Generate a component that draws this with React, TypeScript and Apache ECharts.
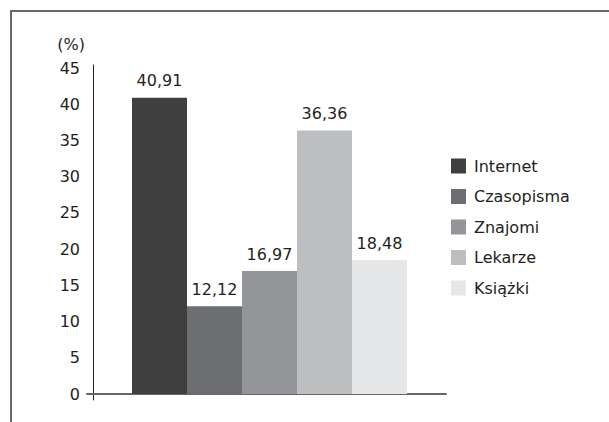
import React, { useEffect, useRef } from "react";
import * as echarts from "echarts";

const seriesNames = ["Internet", "Czasopisma", "Znajomi", "Lekarze", "Książki"];
const seriesValues = [40.91, 12.12, 16.97, 36.36, 18.48];
const seriesColors = ["#3f3f3f", "#6d6e71", "#939598", "#bcbec0", "#e6e7e8"];
const categories = [""];
const yMin = 0;
const yMax = 45;
const yInterval = 5;

const FONT = "'DejaVu Sans', sans-serif";
const TEXT = "#231f20";

export default function App() {
  const ref = useRef<HTMLDivElement>(null);
  useEffect(() => {
    if (!ref.current) return;
    const chart = echarts.init(ref.current, null, { renderer: "svg" });
    chart.setOption({
      animation: false,
      backgroundColor: "#ffffff",
      textStyle: { fontFamily: FONT, color: TEXT },
      graphic: [
        {
          type: "polyline",
          shape: { points: [[11, 422], [11, 11], [609, 11]] },
          style: { stroke: "#6a6a6a", lineWidth: 2, fill: "none" },
        },
      ],
      legend: {
        orient: "vertical",
        left: 451,
        top: 158,
        padding: 0,
        itemWidth: 15,
        itemHeight: 15,
        itemGap: 14.5,
        icon: "rect",
        data: seriesNames,
        textStyle: { fontFamily: FONT, fontSize: 16, color: TEXT, padding: [0, 0, 0, 3] },
      },
      grid: [
        { left: 93, right: 163, top: 68, bottom: 28, containLabel: false },
        { left: 87, right: 163, top: 68, bottom: 28, containLabel: false },
        { left: 93, right: 163, top: 65, bottom: 22, containLabel: false },
      ],
      xAxis: [
        {
          type: "category",
          gridIndex: 0,
          data: categories,
          axisLine: { show: false },
          axisTick: { show: false },
          axisLabel: { show: false },
          splitLine: { show: false },
        },
        {
          type: "category",
          gridIndex: 1,
          data: categories,
          axisLine: { show: true, lineStyle: { color: "#666666", width: 2 } },
          axisTick: { show: false },
          axisLabel: { show: false },
          splitLine: { show: false },
        },
        {
          type: "category",
          gridIndex: 2,
          data: categories,
          show: false,
        },
      ],
      yAxis: [
        {
          type: "value",
          gridIndex: 0,
          min: yMin,
          max: yMax,
          interval: yInterval,
          name: "(%)",
          nameLocation: "end",
          nameGap: 16,
          nameTextStyle: {
            fontFamily: FONT,
            fontSize: 16,
            color: TEXT,
            align: "right",
            padding: [0, 8, 0, 0],
          },
          axisLine: { show: false },
          axisTick: { show: false },
          splitLine: { show: false },
          axisLabel: { fontFamily: FONT, fontSize: 16, color: TEXT, margin: 13 },
        },
        {
          type: "value",
          gridIndex: 1,
          min: yMin,
          max: yMax,
          interval: yInterval,
          show: false,
        },
        {
          type: "value",
          gridIndex: 2,
          min: yMin,
          max: yMax,
          interval: yInterval,
          axisLine: { show: true, lineStyle: { color: "#222222", width: 1 } },
          axisTick: { show: false },
          axisLabel: { show: false },
          splitLine: { show: false },
        },
      ],
      series: seriesNames.map((name, i) => ({
        name,
        type: "bar",
        xAxisIndex: 0,
        yAxisIndex: 0,
        data: [seriesValues[i]],
        barWidth: 55,
        barGap: "0%",
        itemStyle: { color: seriesColors[i] },
        label: {
          show: true,
          position: "top",
          distance: 9,
          fontFamily: FONT,
          fontSize: 16,
          color: TEXT,
          formatter: (p: any) => Number(p.value).toFixed(2).replace(".", ","),
        },
      })),
    });
    return () => chart.dispose();
  }, []);
  return (
    <div
      ref={ref}
      style={{ position: "fixed", left: 0, top: 0, width: 609, height: 422 }}
    />
  );
}
